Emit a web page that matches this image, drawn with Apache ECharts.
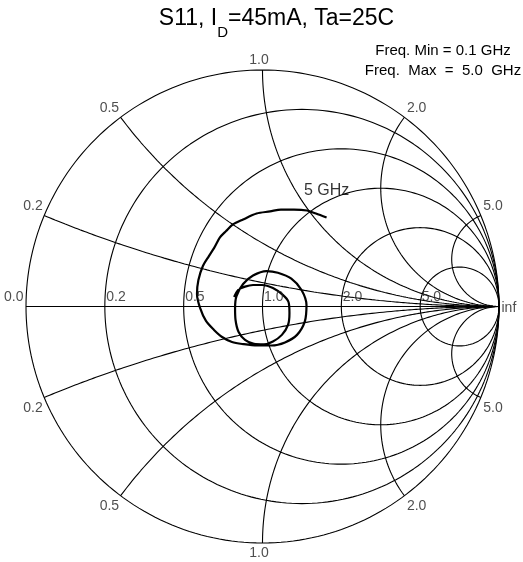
<!DOCTYPE html>
<html lang="en">
<head>
<meta charset="UTF-8">
<title>S11 Smith chart</title>
<script src="https://cdn.jsdelivr.net/npm/echarts@6/dist/echarts.min.js"></script>
<style type="text/css">
    html, body {
        margin: 0;
        padding: 0;
        background: #fff;
    }
    #chart {
        width: 523px;
        height: 562px;
    }
</style>
</head>
<body>
<div id="chart"></div>
<script type="text/javascript">
    // S11 reflection coefficient, 0.1 GHz -> 5.0 GHz (real / imaginary part)
    var s11Re = [-0.120, -0.103, -0.074, -0.040, -0.002, 0.044, 0.086, 0.110, 0.114, 0.108,
        0.082, 0.044, 0.006, -0.036, -0.074, -0.101, -0.114, -0.116, -0.110, -0.082,
        -0.040, 0.017, 0.065, 0.122, 0.165, 0.186, 0.179, 0.146, 0.095, 0.038,
        -0.023, -0.082, -0.129, -0.171, -0.205, -0.239, -0.264, -0.277, -0.271, -0.252,
        -0.226, -0.205, -0.180, -0.154, -0.125, -0.082, -0.025, 0.032, 0.078, 0.133,
        0.188, 0.226, 0.271];
    var s11Im = [0.040, 0.070, 0.084, 0.091, 0.091, 0.078, 0.049, 0.019, -0.027, -0.078,
        -0.120, -0.148, -0.160, -0.158, -0.141, -0.108, -0.057, -0.006, 0.044, 0.095,
        0.131, 0.150, 0.143, 0.118, 0.070, 0.006, -0.063, -0.120, -0.152, -0.165,
        -0.165, -0.159, -0.150, -0.129, -0.099, -0.061, -0.006, 0.053, 0.112, 0.171,
        0.214, 0.247, 0.292, 0.319, 0.347, 0.368, 0.393, 0.402, 0.410, 0.410,
        0.406, 0.393, 0.376];

    // smith grid values (normalised resistance / reactance)
    var resistanceTicks = [0.2, 0.5, 1.0, 2.0, 5.0];
    var reactanceTicks = [0.2, 0.5, 1.0, 2.0, 5.0];

    var titleLeft = 'S11, I';
    var titleSub = 'D';
    var titleRight = '=45mA, Ta=25C';
    var freqNotes = ['Freq. Min = 0.1 GHz', 'Freq.  Max  =  5.0  GHz'];
    var endText = '5 GHz';

    var FONT = '"Liberation Sans", Arial, sans-serif';

    // impedance z = r + jx  ->  reflection coefficient
    function gamma(r, x) {
        var d = (r + 1) * (r + 1) + x * x;
        return [(r * r + x * x - 1) / d, 2 * x / d];
    }

    function resistanceCircle(r) {
        var c = r / (1 + r), rad = 1 / (1 + r), pts = [];
        for (var i = 0; i <= 240; i++) {
            var a = i / 240 * Math.PI * 2;
            pts.push([c + rad * Math.cos(a), rad * Math.sin(a)]);
        }
        return pts;
    }

    function reactanceArc(x) {
        var pts = [];
        for (var i = 0; i < 240; i++) {
            pts.push(gamma(Math.tan(i / 240 * Math.PI / 2), x));
        }
        pts.push([1, 0]);
        return pts;
    }

    function gridLine(data) {
        return {
            type: 'line',
            data: data,
            showSymbol: false,
            silent: true,
            clip: false,
            z: 1,
            lineStyle: {color: '#000', width: 1.1}
        };
    }

    var series = [];
    series.push(gridLine(resistanceCircle(0)));
    series.push(gridLine([[-1, 0], [1, 0]]));
    resistanceTicks.forEach(function (r) {
        series.push(gridLine(resistanceCircle(r)));
    });
    reactanceTicks.forEach(function (x) {
        series.push(gridLine(reactanceArc(x)));
        series.push(gridLine(reactanceArc(-x)));
    });

    var s11Data = [];
    for (var i = 0; i < s11Re.length; i++) {
        s11Data.push([s11Re[i], s11Im[i]]);
    }
    series.push({
        type: 'line',
        data: s11Data,
        showSymbol: false,
        smooth: 0.3,
        silent: true,
        z: 3,
        lineStyle: {color: '#000', width: 2.2}
    });

    // grid labels
    var labelItems = [];
    function addLabel(pt, text, pos, align, va) {
        labelItems.push({
            value: pt,
            label: {show: true, formatter: text, position: pos, align: align, verticalAlign: va}
        });
    }
    addLabel([-1, 0], '0.0', [-2, -2], 'right', 'bottom');
    resistanceTicks.forEach(function (r) {
        addLabel([(r - 1) / (r + 1), 0], r.toFixed(1), [2, -2], 'left', 'bottom');
    });
    addLabel([1, 0], 'inf', [3, 2], 'left', 'middle');
    reactanceTicks.forEach(function (x) {
        [1, -1].forEach(function (s) {
            var p = gamma(0, s * x);
            var align = Math.abs(p[0]) < 0.01 ? 'center' : (p[0] < 0 ? 'right' : 'left');
            var dx = align === 'center' ? -3 : (align === 'right' ? -1 : 3);
            var va = s > 0 ? 'bottom' : 'top';
            var dy = s > 0 ? -2 : 4;
            addLabel(p, x.toFixed(1), [dx, dy], align, va);
        });
    });
    series.push({
        type: 'scatter',
        data: labelItems,
        symbolSize: 1,
        silent: true,
        z: 4,
        itemStyle: {color: 'rgba(0,0,0,0)'},
        label: {fontFamily: FONT, fontSize: 14, color: '#222'}
    });

    // frequency marker at the end of the trace
    series.push({
        type: 'scatter',
        data: [[s11Re[s11Re.length - 1], s11Im[s11Im.length - 1]]],
        symbolSize: 1,
        silent: true,
        z: 4,
        itemStyle: {color: 'rgba(0,0,0,0)'},
        label: {
            show: true,
            formatter: endText,
            position: 'top',
            distance: 18,
            fontFamily: FONT,
            fontSize: 16,
            color: '#000'
        }
    });

    // title with subscript, measured so the pieces line up
    var ctx = document.createElement('canvas').getContext('2d');
    function textWidth(str, size) {
        ctx.font = size + 'px ' + FONT;
        return ctx.measureText(str).width;
    }
    var w1 = textWidth(titleLeft, 23), wd = textWidth(titleSub, 15), w2 = textWidth(titleRight, 23);
    var tx = 276.5 - (w1 + wd + w2) / 2;

    var graphic = [
        {type: 'text', x: tx, y: 19, style: {text: titleLeft, fontSize: 23, fontFamily: FONT, fill: '#000', align: 'left', verticalAlign: 'middle'}},
        {type: 'text', x: tx + w1, y: 33, style: {text: titleSub, fontSize: 15, fontFamily: FONT, fill: '#000', align: 'left', verticalAlign: 'middle'}},
        {type: 'text', x: tx + w1 + wd, y: 19, style: {text: titleRight, fontSize: 23, fontFamily: FONT, fill: '#000', align: 'left', verticalAlign: 'middle'}},
        {type: 'text', x: 443, y: 51, style: {text: freqNotes[0], fontSize: 15, fontFamily: FONT, fill: '#000', align: 'center', verticalAlign: 'middle'}},
        {type: 'text', x: 443, y: 71, style: {text: freqNotes[1], fontSize: 15, fontFamily: FONT, fill: '#000', align: 'center', verticalAlign: 'middle'}}
    ];

    var myChart = echarts.init(document.getElementById('chart'));
    myChart.setOption({
        animation: false,
        backgroundColor: '#fff',
        grid: {left: 26, top: 70, width: 473, height: 473},
        xAxis: {type: 'value', min: -1, max: 1, show: false},
        yAxis: {type: 'value', min: -1, max: 1, show: false},
        graphic: graphic,
        series: series
    });
</script>
</body>
</html>
